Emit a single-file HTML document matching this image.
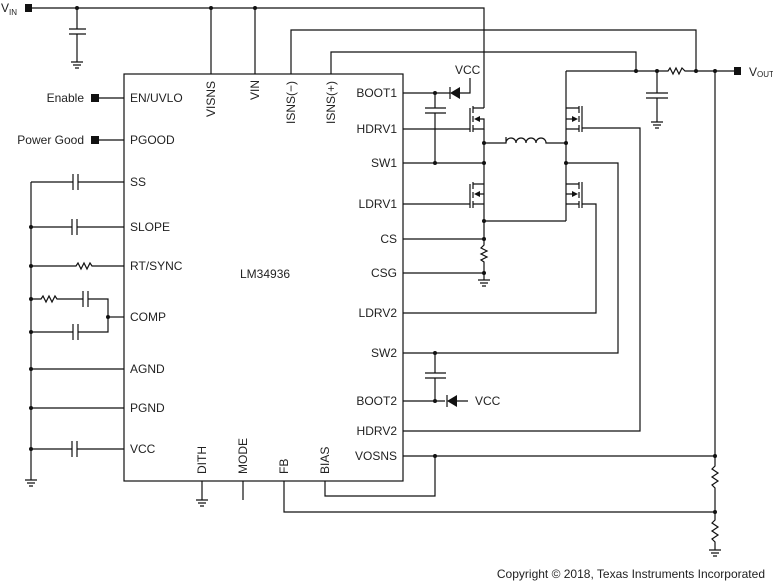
<!DOCTYPE html>
<html><head><meta charset="utf-8"><style>
html,body{margin:0;padding:0;background:#fff;}
svg{display:block;}
text{font-family:"Liberation Sans",sans-serif;font-size:12px;fill:#222;}
.w{stroke:#111;stroke-width:1.2;fill:none;}
.d{fill:#111;}
</style></head><body>
<svg width="773" height="581" viewBox="0 0 773 581">
<!-- IC -->
<rect x="124" y="74" width="279" height="407" class="w" stroke-width="1.6"/>
<text x="240" y="278">LM34936</text>

<!-- VIN -->
<rect x="25" y="4" width="7" height="8" class="d"/>
<text x="1" y="12">V<tspan font-size="8" dy="3">IN</tspan></text>
<path class="w" d="M32 8H484V108"/>
<g><path class="w" d="M77 8V29M69 29H86M69 34H86M77 34V62M71 62H83M73 65H81M75 68H79"/></g>
<circle cx="77" cy="8" r="2" class="d"/><circle cx="211" cy="8" r="2" class="d"/><circle cx="255" cy="8" r="2" class="d"/>
<path class="w" d="M211 8V74M255 8V74"/>
<path class="w" d="M291 74V30H696V71M331 74V52H636V71"/>

<!-- top pin labels -->
<g>
<text transform="translate(215,117) rotate(-90)">VISNS</text>
<text transform="translate(259,100) rotate(-90)">VIN</text>
<text transform="translate(295,124) rotate(-90)">ISNS(−)</text>
<text transform="translate(335,124) rotate(-90)">ISNS(+)</text>
</g>
<!-- bottom pin labels -->
<g>
<text transform="translate(206,474) rotate(-90)">DITH</text>
<text transform="translate(247,474) rotate(-90)">MODE</text>
<text transform="translate(288,474) rotate(-90)">FB</text>
<text transform="translate(329,474) rotate(-90)">BIAS</text>
</g>
<!-- left pin labels -->
<g>
<text x="130" y="102">EN/UVLO</text><text x="130" y="144">PGOOD</text><text x="130" y="186">SS</text>
<text x="130" y="231">SLOPE</text><text x="130" y="270">RT/SYNC</text><text x="130" y="321">COMP</text>
<text x="130" y="373">AGND</text><text x="130" y="412">PGND</text><text x="130" y="453">VCC</text>
</g>
<!-- right pin labels -->
<g text-anchor="end">
<text x="397" y="97">BOOT1</text><text x="397" y="133">HDRV1</text><text x="397" y="167">SW1</text>
<text x="397" y="208">LDRV1</text><text x="397" y="243">CS</text><text x="397" y="277">CSG</text>
<text x="397" y="317">LDRV2</text><text x="397" y="357">SW2</text><text x="397" y="405">BOOT2</text>
<text x="397" y="435">HDRV2</text><text x="397" y="460">VOSNS</text>
</g>

<!-- Enable / PGOOD -->
<text x="84" y="102" text-anchor="end">Enable</text>
<rect x="91" y="94" width="8" height="8" class="d"/>
<path class="w" d="M99 98H124"/>
<text x="84" y="144" text-anchor="end">Power Good</text>
<rect x="91" y="136" width="8" height="8" class="d"/>
<path class="w" d="M99 140H124"/>

<!-- left network -->
<g>
<path class="w" d="M31 182V480M25 480H37M27 483H35M29 486H33"/>
<path class="w" d="M31 182H73M73 174V190M78 174V190M78 182H124"/>
<path class="w" d="M31 227H72M72 219V235M77 219V235M77 227H124"/>
<path class="w" d="M31 266H76L78 263L81 269L84 263L87 269L90 263L92 266H124"/>
<path class="w" d="M31 299H41L43 296L46 302L49 296L52 302L55 296L57 299H83M83 291V307M88 291V307M88 299H108V332H78M78 324V340M73 324V340M73 332H31"/>
<path class="w" d="M108 317H124"/>
<path class="w" d="M31 369H124M31 408H124"/>
<path class="w" d="M31 449H72M72 441V457M77 441V457M77 449H124"/>
</g>
<g class="d"><circle cx="31" cy="227" r="2"/><circle cx="31" cy="266" r="2"/><circle cx="31" cy="299" r="2"/><circle cx="31" cy="332" r="2"/><circle cx="31" cy="369" r="2"/><circle cx="31" cy="408" r="2"/><circle cx="31" cy="449" r="2"/><circle cx="108" cy="317" r="2"/></g>

<!-- bottom pins wiring -->
<path class="w" d="M202 481V500M196 500H208M198 503H206M200 506H204"/>
<path class="w" d="M243 481V500"/>
<path class="w" d="M284 481V512H715"/>
<path class="w" d="M325 481V496H435V456"/>

<!-- right pins wiring -->
<path class="w" d="M403 93H450M403 129H470M403 163H484M403 204H470M403 239H484M403 273H484"/>
<path class="w" d="M403 313H596V204H582M403 353H618V163H566M403 401H445M403 431H640V128H582M403 456H715"/>

<!-- BOOT1 cap & diode -->
<g>
<path class="w" d="M435 93V108M425 108H446M425 113H446M435 113V163"/>
<path d="M450 93L460 87V99Z" class="d"/><path class="w" d="M450 87V99M460 93H470V78"/>
<text x="455" y="74">VCC</text>
</g>
<!-- BOOT2 -->
<g>
<path class="w" d="M435 353V373M425 373H446M425 378H446M435 378V401"/>
<path d="M447 401L457 395V407Z" class="d"/><path class="w" d="M447 395V407M457 401H468"/>
<text x="475" y="405">VCC</text>
</g>

<!-- MOSFETs -->
<g>
<path class="w" d="M470 108V132M473 106V113M473 116V122M473 125V132M473 108H484M473 129H484V119H478"/>
<path d="M474 119L480 116V122Z" class="d"/>
</g>
<g>
<path class="w" d="M470 184V208M473 182V189M473 192V198M473 201V208M473 184H484M473 204H484V194H478M484 184V163M484 129V239"/>
<path d="M474 194L480 191V197Z" class="d"/>
</g>
<g>
<path class="w" d="M582 106V132M579 106V113M579 116V122M579 125V132M566 108H579M566 71V221M566 129H579M566 119H572"/>
<path d="M578 119L572 116V122Z" class="d"/>
</g>
<g>
<path class="w" d="M582 182V208M579 182V189M579 192V198M579 201V208M566 184H579M566 204H579M566 194H572"/>
<path d="M578 194L572 191V197Z" class="d"/>
</g>
<path class="w" d="M484 143H506V137M506 143A5 5 0 0 1 516 143A5 5 0 0 1 526 143A5 5 0 0 1 536 143A5 5 0 0 1 546 143V143H566"/>
<path class="w" d="M484 221H566"/>
<path class="w" d="M484 239V245L481 248L487 251L481 254L487 257L481 260L484 262V280M478 280H490M480 283H488M482 286H486"/>
<g class="d"><circle cx="435" cy="93" r="2"/><circle cx="435" cy="163" r="2"/><circle cx="484" cy="143" r="2"/><circle cx="484" cy="163" r="2"/><circle cx="484" cy="221" r="2"/><circle cx="484" cy="239" r="2"/><circle cx="484" cy="273" r="2"/><circle cx="566" cy="143" r="2"/><circle cx="566" cy="163" r="2"/><circle cx="435" cy="353" r="2"/><circle cx="435" cy="401" r="2"/><circle cx="435" cy="456" r="2"/></g>

<!-- Vout -->
<g>
<path class="w" d="M566 71H668L670 68L673 74L676 68L679 74L682 68L685 71H734"/>
<path class="w" d="M657 71V93M646 93H668M646 98H668M657 98V122M651 122H663M653 125H661M655 128H659"/>
<path class="w" d="M715 71V466L712 469L718 473L712 477L718 481L712 485L715 488V520L712 523L718 527L712 531L718 535L712 539L715 542V550M709 550H721M711 553H719M713 556H717"/>
</g>
<g class="d"><circle cx="636" cy="71" r="2"/><circle cx="657" cy="71" r="2"/><circle cx="696" cy="71" r="2"/><circle cx="715" cy="71" r="2"/><circle cx="715" cy="456" r="2"/><circle cx="715" cy="512" r="2"/></g>
<rect x="734" y="67" width="7" height="8" class="d"/>
<text x="749" y="76">V<tspan font-size="8" dy="1">OUT</tspan></text>

<text x="765" y="578" text-anchor="end" font-size="11">Copyright © 2018, Texas Instruments Incorporated</text>
</svg>
</body></html>
